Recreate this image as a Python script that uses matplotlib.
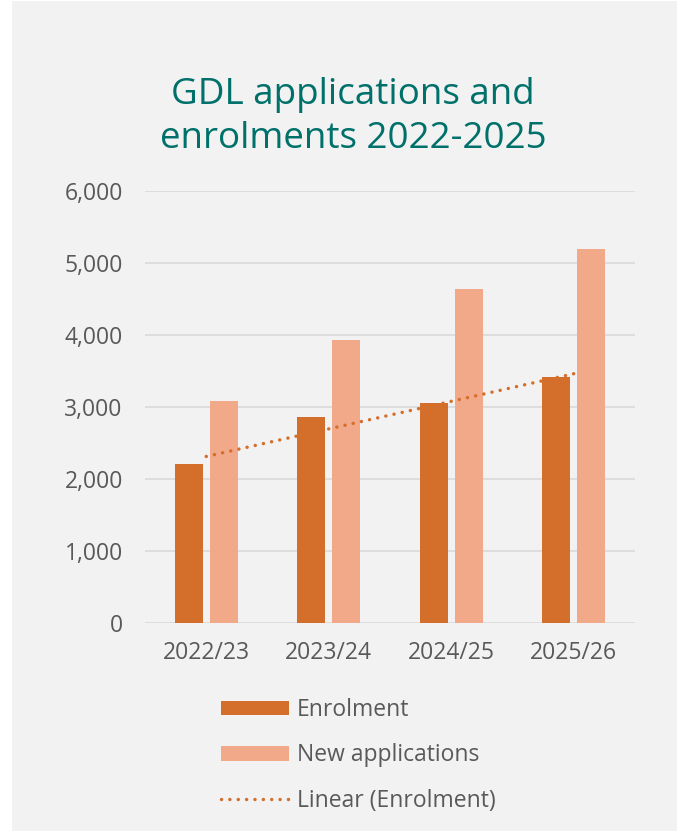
import numpy as np
import matplotlib
matplotlib.use("Agg")
import matplotlib.pyplot as plt
from matplotlib.patches import Rectangle

plt.rcParams['font.family'] = ['Open Sans', 'DejaVu Sans']

years = ["2022/23", "2023/24", "2024/25", "2025/26"]
enrolment = [2210, 2860, 3060, 3420]
applications = [3080, 3930, 4635, 5190]
y_ticks = [0, 1000, 2000, 3000, 4000, 5000, 6000]

ORANGE = "#d36f2b"
PEACH = "#f1a98a"
GRID = "#d9d9d9"
TEXT = "#595959"
TEAL = "#00706a"
BG = "#f2f2f2"

fig = plt.figure(figsize=(6.77, 8.31), dpi=100)
fig.patch.set_facecolor("white")
# grey card behind the chart
fig.patches.append(Rectangle((12 / 677, 0), 1 - 12 / 677, 1 - 1 / 831,
                             transform=fig.transFigure, facecolor=BG,
                             edgecolor="none", zorder=-10))

ax = fig.add_axes([145 / 677, (831 - 623) / 831, 490 / 677, 432 / 831])
ax.set_facecolor("none")

x = np.arange(len(years))
w = 0.229
off = 0.143
b1 = ax.bar(x - off, enrolment, w, color=ORANGE, label="Enrolment", zorder=3)
b2 = ax.bar(x + off, applications, w, color=PEACH, label="New applications", zorder=3)

# linear trendline of enrolment (like Excel)
k, c = np.polyfit(x, enrolment, 1)
tr, = ax.plot(x, k * x + c, color=ORANGE, lw=2.5, linestyle=(0, (0.01, 2.4)),
              dash_capstyle="round", label="Linear (Enrolment)", zorder=4)

ax.set_xlim(-0.5, len(years) - 0.5)
ax.set_ylim(0, 6000)
ax.set_yticks(y_ticks)
ax.set_yticklabels([f"{v:,}" for v in y_ticks])
ax.set_xticks(x)
ax.set_xticklabels(years)
ax.tick_params(axis="both", length=0, labelsize=16.5, labelcolor=TEXT)
ax.tick_params(axis="y", pad=16)
ax.tick_params(axis="x", pad=13)
ax.grid(axis="y", color=GRID, lw=1.2, zorder=0)
for s in ax.spines.values():
    s.set_visible(False)

fig.text(353 / 677, 1 - 117 / 831, "GDL applications and\nenrolments 2022-2025",
         ha="center", va="center", fontsize=26.5, color=TEAL, linespacing=1.32)

fig.legend(handles=[b1, b2, tr], loc="upper left",
           bbox_to_anchor=(221 / 677, 1 - 698 / 831), frameon=False,
           fontsize=16.5, labelcolor=TEXT, handlelength=2.97, handleheight=0.6,
           handletextpad=0.35, labelspacing=0.93, borderpad=0, borderaxespad=0)

fig.savefig("out.png", dpi=100, facecolor=fig.get_facecolor())
